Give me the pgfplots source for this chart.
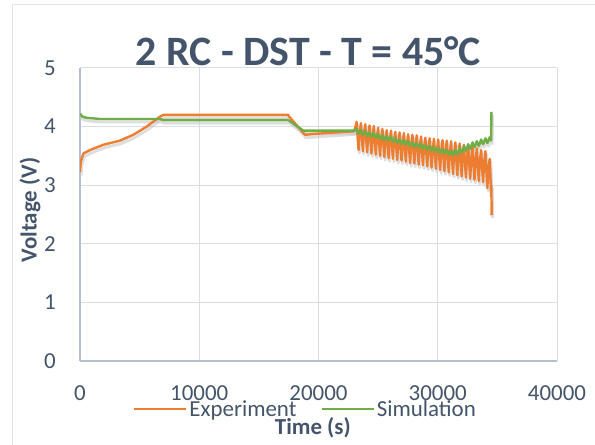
\documentclass[border=0pt]{standalone}
\usepackage{fontspec}
\setmainfont{Carlito}
\usepackage{pgfplots}
\usepackage{pgfplotstable}
\pgfplotsset{compat=1.18}
\definecolor{txt}{HTML}{44546A}
\definecolor{grd}{HTML}{D9DEE6}
\definecolor{axl}{HTML}{B4C0D2}
\definecolor{org}{HTML}{ED7D31}
\definecolor{grn}{HTML}{70AD47}
\definecolor{shd}{HTML}{C8C8C8}
\pgfplotstableread{
t v
0 3.22
60 3.40
280 3.54
840 3.60
1960 3.69
3350 3.76
4470 3.86
5590 4.00
6710 4.17
7000 4.20
17470 4.20
17500 4.18
18870 3.86
20000 3.88
23000 3.92
23200 4.08
23260 3.88
23360 3.60
23440 3.88
23560 4.06
23620 3.86
23720 3.58
23800 3.86
23920 4.04
23980 3.84
24080 3.56
24160 3.84
24280 4.02
24340 3.82
24440 3.54
24520 3.82
24640 4.01
24700 3.80
24800 3.52
24880 3.80
25000 3.98
25060 3.78
25160 3.50
25240 3.78
25360 3.96
25420 3.76
25520 3.48
25600 3.76
25720 3.94
25780 3.74
25880 3.46
25960 3.74
26080 3.93
26140 3.73
26240 3.45
26320 3.73
26440 3.91
26500 3.71
26600 3.43
26680 3.71
26800 3.90
26860 3.70
26960 3.42
27040 3.70
27160 3.89
27220 3.68
27320 3.40
27400 3.68
27520 3.87
27580 3.67
27680 3.38
27760 3.67
27880 3.86
27940 3.66
28040 3.37
28120 3.66
28240 3.85
28300 3.64
28400 3.35
28480 3.64
28600 3.83
28660 3.63
28760 3.34
28840 3.63
28960 3.81
29020 3.61
29120 3.32
29200 3.61
29320 3.80
29380 3.59
29480 3.30
29560 3.59
29680 3.79
29740 3.58
29840 3.28
29920 3.58
30040 3.78
30100 3.56
30200 3.26
30280 3.56
30400 3.77
30460 3.55
30560 3.24
30640 3.55
30760 3.76
30820 3.53
30920 3.22
31000 3.53
31120 3.75
31180 3.51
31280 3.19
31360 3.51
31480 3.73
31540 3.49
31640 3.17
31720 3.49
31840 3.71
31900 3.47
32000 3.15
32080 3.47
32200 3.69
32260 3.45
32360 3.13
32440 3.45
32560 3.67
32620 3.43
32720 3.11
32800 3.43
32920 3.65
32980 3.41
33080 3.09
33160 3.41
33280 3.63
33340 3.39
33440 3.07
33520 3.39
33640 3.60
33700 3.36
33800 3.05
33880 3.36
34000 3.58
34060 3.30
34160 2.95
34240 3.30
34360 3.45
34420 3.14
34480 2.80
34500 3.00
34520 2.49
}\expdata
\pgfplotstableread{
t v
0 4.22
200 4.17
560 4.15
1680 4.13
6700 4.13
7000 4.11
17470 4.11
18730 3.93
23000 3.93
23200 3.96
23260 3.92
23360 3.88
23440 3.92
23560 3.94
23620 3.90
23720 3.86
23800 3.90
23920 3.92
23980 3.88
24080 3.84
24160 3.88
24280 3.90
24340 3.86
24440 3.82
24520 3.86
24640 3.89
24700 3.85
24800 3.81
24880 3.85
25000 3.87
25060 3.83
25160 3.79
25240 3.83
25360 3.85
25420 3.81
25520 3.77
25600 3.81
25720 3.84
25780 3.80
25880 3.76
25960 3.80
26080 3.82
26140 3.78
26240 3.74
26320 3.78
26440 3.80
26500 3.76
26600 3.72
26680 3.76
26800 3.78
26860 3.74
26960 3.70
27040 3.74
27160 3.77
27220 3.73
27320 3.69
27400 3.73
27520 3.75
27580 3.71
27680 3.67
27760 3.71
27880 3.73
27940 3.69
28040 3.65
28120 3.69
28240 3.72
28300 3.68
28400 3.64
28480 3.68
28600 3.70
28660 3.66
28760 3.62
28840 3.66
28960 3.68
29020 3.64
29120 3.60
29200 3.64
29320 3.67
29380 3.63
29480 3.59
29560 3.63
29680 3.65
29740 3.61
29840 3.57
29920 3.61
30040 3.63
30100 3.59
30200 3.55
30280 3.59
30400 3.62
30460 3.58
30560 3.54
30640 3.58
30760 3.60
30820 3.56
30920 3.52
31000 3.56
31120 3.59
31180 3.55
31280 3.51
31360 3.55
31480 3.60
31540 3.56
31640 3.52
31720 3.56
31840 3.63
31900 3.59
32000 3.55
32080 3.59
32200 3.67
32260 3.63
32360 3.59
32440 3.63
32560 3.70
32620 3.66
32720 3.62
32800 3.66
32920 3.73
32980 3.69
33080 3.65
33160 3.69
33280 3.75
33340 3.71
33440 3.67
33520 3.71
33640 3.78
33700 3.74
33800 3.70
33880 3.74
34000 3.80
34060 3.76
34160 3.72
34240 3.76
34360 3.82
34420 3.78
34460 3.76
34480 3.78
34500 4.25
}\simdata
\begin{document}
\begin{tikzpicture}[x=1bp,y=1bp]
\begin{axis}[
  at={(80bp,84bp)}, anchor=south west,
  width=477bp, height=293bp, scale only axis,
  xmin=0, xmax=40000, ymin=0, ymax=5,
  scaled x ticks=false, scaled y ticks=false,
  xtick={0,10000,20000,30000,40000},
  xticklabels={0,10000,20000,30000,40000},
  ytick={0,1,2,3,4,5},
  yticklabels={0,1,2,3,4,5},
  grid=major,
  major grid style={grd, line width=1bp},
  axis x line*=bottom, axis y line*=left,
  axis line style={axl, line width=1.3bp, -},
  major tick length=0pt,
  tick label style={font=\fontsize{23}{27}\selectfont, text=txt},
  xticklabel style={anchor=center, yshift=-32bp},
  yticklabel style={anchor=center, xshift=-30bp},
  xlabel={Time (s)},
  xlabel style={at={(axis description cs:0.488,-0.2287)}, anchor=center, font=\bfseries\fontsize{23}{27}\selectfont, text=txt},
  ylabel={Voltage (V)},
  ylabel style={at={(axis description cs:-0.1048,0.515)}, anchor=center, font=\bfseries\fontsize{23}{27}\selectfont, text=txt},
  legend style={at={(axis description cs:0.4727,-0.164)}, anchor=center, draw=none, fill=none,
    font=\fontsize{23}{27}\selectfont, text=txt, inner sep=0pt,
    /tikz/every even column/.append style={column sep=22bp}},
  legend columns=2,
  legend image code/.code={\draw[#1] (0bp,0bp) -- (52bp,0bp);},
  every axis plot/.append style={line join=round},
]
\addplot[shd, line width=3bp, opacity=0.6, yshift=-3bp, xshift=1bp, forget plot] table[x=t,y=v] {\expdata};
\addplot[shd, line width=3bp, opacity=0.6, yshift=-3bp, xshift=1bp, forget plot] table[x=t,y=v] {\simdata};
\addplot[org, line width=2.4bp] table[x=t,y=v] {\expdata};
\addlegendentry{Experiment}
\addplot[grn, line width=2.4bp] table[x=t,y=v] {\simdata};
\addlegendentry{Simulation}
\end{axis}
\node[font=\bfseries\fontsize{42}{48}\selectfont, text=txt, anchor=base] at (308.5,379) {2 RC - DST - T = 45°C};
\draw[gray!20, line width=1bp] (12,-20) -- (12,440) -- (620,440);
\pgfresetboundingbox
\useasboundingbox (0,0) rectangle (595,445);
\end{tikzpicture}
\end{document}
